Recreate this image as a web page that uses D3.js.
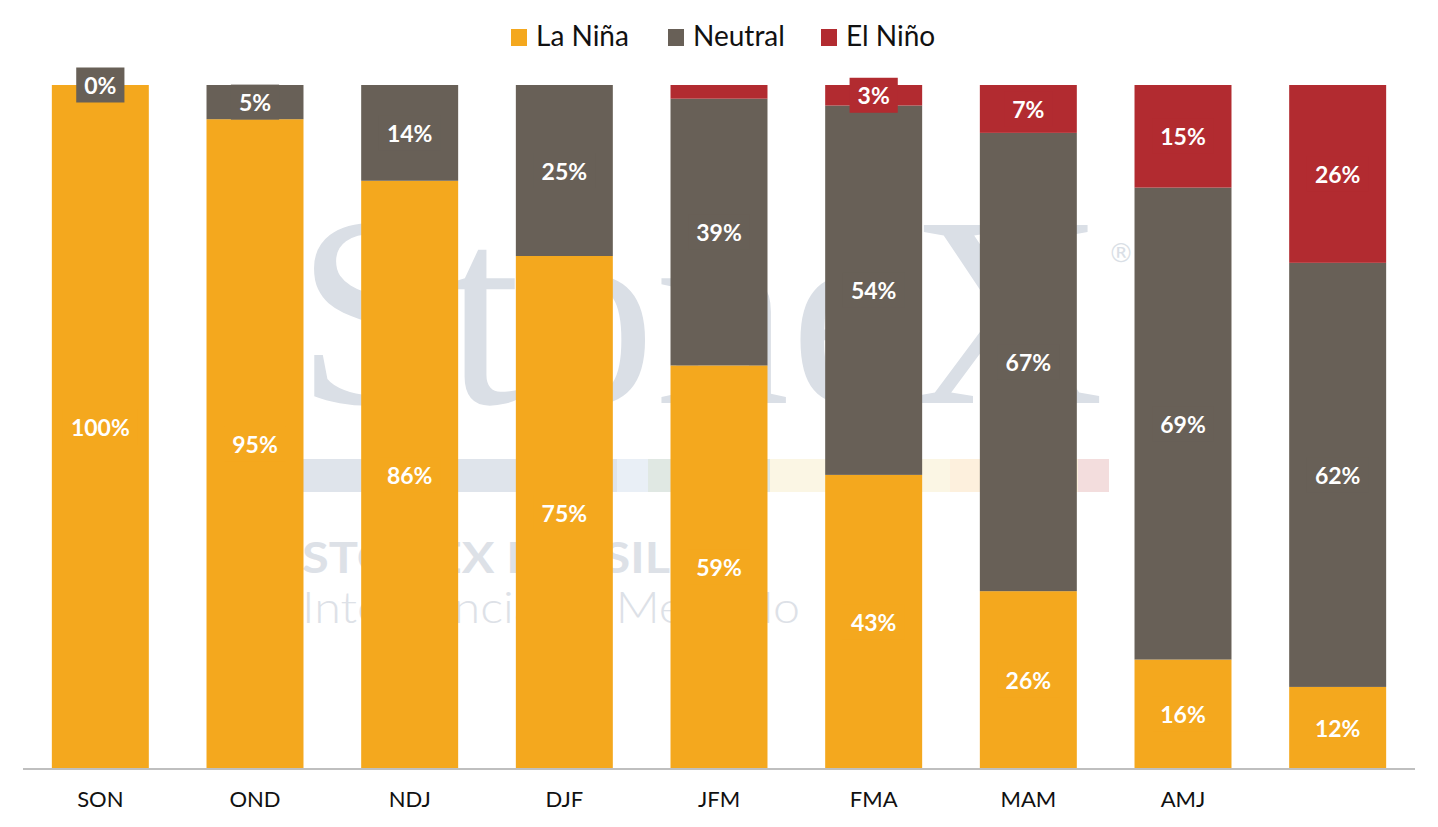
<!DOCTYPE html>
<html>
<head>
<meta charset="utf-8">
<script src="https://cdn.jsdelivr.net/npm/d3@7/dist/d3.min.js"></script>
<style>
  html, body { margin: 0; padding: 0; background: #fff; }
  svg { display: block; }
</style>
</head>
<body>
<div id="chart"></div>
<script>
// ---- Data ----
const categories = ["SON", "OND", "NDJ", "DJF", "JFM", "FMA", "MAM", "AMJ", ""];
const seriesNames = ["La Niña", "Neutral", "El Niño"];
const laNina  = [100, 95, 86, 75, 59, 43, 26, 16, 12];
const neutral = [0, 5, 14, 25, 39, 54, 67, 69, 62];
const elNino  = [0, 0, 0, 0, 2, 3, 7, 15, 26];
const seriesColors = ["#F4A81E", "#686057", "#B22B30"];
// labels that are not displayed in the original (series index, category index)
const hiddenLabels = [[2,0],[2,1],[2,2],[2,3],[2,4]];

const W = 1438, H = 827;
const margin = { left: 23, right: 23, top: 85, bottom: 58 };

const svg = d3.select("#chart").append("svg").attr("width", W).attr("height", H);

const x = d3.scaleBand().domain(categories)
  .range([margin.left, W - margin.right])
  .paddingInner(0.373).paddingOuter(0.1865);
const y = d3.scaleLinear().domain([0, 100]).range([H - margin.bottom, margin.top]);

// ---- Watermark ----
const wm = svg.append("g").attr("class", "watermark");
wm.append("text").attr("x", 296).attr("y", 403)
  .attr("font-family", "Liberation Serif, DejaVu Serif, serif")
  .attr("font-size", 272).attr("fill", "#dadfe6")
  .attr("textLength", 808).attr("lengthAdjust", "spacingAndGlyphs")
  .text("StoneX");
wm.append("text").attr("x", 1108).attr("y", 262)
  .attr("font-family", "DejaVu Sans, sans-serif")
  .attr("font-size", 26).attr("fill", "#dadfe6").text("®");
const stripe = [
  [303, 617, "#dfe4eb"], [617, 648, "#e9eff6"], [648, 770, "#e0e8e3"],
  [770, 950, "#fbf6e4"], [950, 1078, "#fdf0dd"], [1078, 1109, "#f3dddd"]
];
wm.selectAll("rect.stripe").data(stripe).join("rect").attr("class", "stripe")
  .attr("x", d => d[0]).attr("y", 459).attr("width", d => d[1] - d[0]).attr("height", 33)
  .attr("fill", d => d[2]);
wm.append("text").attr("x", 302).attr("y", 573)
  .attr("font-family", "Lato, Open Sans, sans-serif").attr("font-weight", 700)
  .attr("font-size", 42).attr("fill", "#dde1e7")
  .attr("textLength", 368).attr("lengthAdjust", "spacingAndGlyphs")
  .text("STONEX BRASIL");
wm.append("text").attr("x", 302).attr("y", 623)
  .attr("font-family", "Lato, Open Sans, sans-serif").attr("font-weight", 300)
  .attr("font-size", 44).attr("fill", "#dde1e7")
  .attr("textLength", 498).attr("lengthAdjust", "spacingAndGlyphs")
  .text("Inteligência de Mercado");

// ---- Stacked bars ----
const table = categories.map((c, i) => ({
  cat: c, [seriesNames[0]]: laNina[i], [seriesNames[1]]: neutral[i], [seriesNames[2]]: elNino[i]
}));
const stack = d3.stack().keys(seriesNames);
const stacked = stack(table);

const layers = svg.append("g").selectAll("g.layer").data(stacked).join("g")
  .attr("class", "layer").attr("fill", (d, i) => seriesColors[i]);
layers.selectAll("rect").data(d => d).join("rect")
  .attr("x", d => x(d.data.cat))
  .attr("width", x.bandwidth())
  .attr("y", d => y(d[1]))
  .attr("height", d => Math.max(0, y(d[0]) - y(d[1])));

// ---- Axis ----
const xAxis = svg.append("g").attr("transform", `translate(0,${y(0)})`)
  .call(d3.axisBottom(x).tickSize(0).tickPadding(22));
xAxis.select(".domain").attr("stroke", "#bfbfbf").attr("stroke-width", 2)
  .attr("d", `M${margin.left},0H${W - margin.right}`);
xAxis.selectAll("text").attr("font-family", "Lato, Open Sans, sans-serif")
  .attr("font-size", 22).attr("font-weight", 400).attr("fill", "#111");

// ---- Data labels ----
const isHidden = (si, ci) => hiddenLabels.some(h => h[0] === si && h[1] === ci);
const labelsG = svg.append("g");
stacked.forEach((layer, si) => {
  layer.forEach((d, ci) => {
    if (isHidden(si, ci)) return;
    const cx = x(d.data.cat) + x.bandwidth() / 2;
    const cy = (y(d[0]) + y(d[1])) / 2;
    const g = labelsG.append("g");
    const bg = g.append("rect").attr("fill", seriesColors[si]);
    const t = g.append("text").attr("x", cx).attr("y", cy)
      .attr("text-anchor", "middle").attr("dominant-baseline", "central")
      .attr("font-family", "Lato, Open Sans, sans-serif").attr("font-weight", 700)
      .attr("font-size", 23).attr("fill", "#fff")
      .text((d[1] - d[0]) + "%");
    const bb = t.node().getBBox();
    bg.attr("x", cx - bb.width / 2 - 8).attr("y", cy - 17.5)
      .attr("width", bb.width + 16).attr("height", 35);
  });
});

// ---- Legend ----
const legend = svg.append("g");
const legItems = [
  { name: seriesNames[0], sx: 511, tx: 536 },
  { name: seriesNames[1], sx: 668, tx: 693 },
  { name: seriesNames[2], sx: 821, tx: 846 }
];
legItems.forEach((it, i) => {
  legend.append("rect").attr("x", it.sx).attr("y", 29).attr("width", 16).attr("height", 17)
    .attr("fill", seriesColors[i]);
  legend.append("text").attr("x", it.tx).attr("y", 46)
    .attr("font-family", "Lato, Open Sans, sans-serif").attr("font-size", 28)
    .attr("fill", "#111").text(it.name);
});
</script>
</body>
</html>
